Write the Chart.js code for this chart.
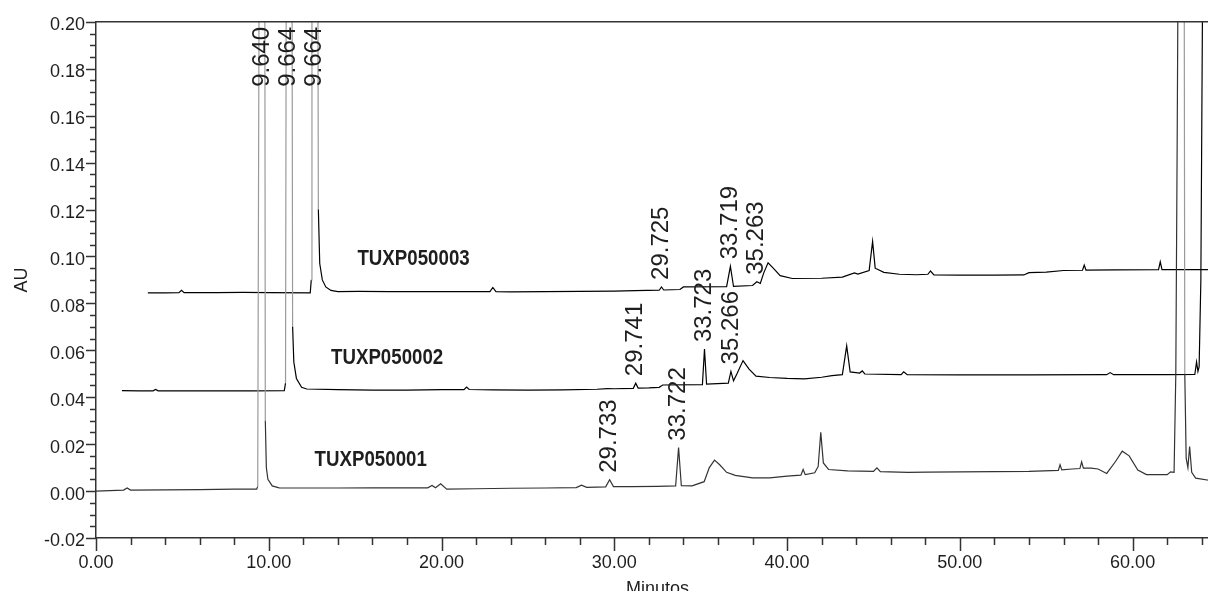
<!DOCTYPE html>
<html>
<head>
<meta charset="utf-8">
<title>TUXP chromatograms</title>
<script src="https://cdn.jsdelivr.net/npm/chart.js@4.4.1/dist/chart.umd.min.js"></script>
<style>
  html, body { margin: 0; padding: 0; background: #fff; overflow: hidden; }
  #wrap { width: 1232px; height: 604px; }
</style>
</head>
<body>
<div id="wrap"><canvas id="chrom"></canvas></div>
<script>
// --- data (as displayed: each run is offset in time and AU by the software) ---
const sampleNames = ['TUXP050001', 'TUXP050002', 'TUXP050003'];
const xTicks = [0, 10, 20, 30, 40, 50, 60];
const yTicks = [-0.02, 0.00, 0.02, 0.04, 0.06, 0.08, 0.10, 0.12, 0.14, 0.16, 0.18, 0.20];

const s1Time = [0.00, 0.8, 1.6, 1.8, 2.0, 4.0, 6.0, 8.0, 9.30, 9.36, 9.47, 9.62, 9.76, 9.80, 9.86, 9.95, 10.2, 10.6,
  12.0, 14.0, 16.0, 18.0, 19.2, 19.45, 19.65, 19.95, 20.3, 22.0, 24.0, 26.0, 27.8, 28.1, 28.4, 29.5, 29.73, 29.95,
  31.0, 32.5, 33.55, 33.72, 33.88, 34.5, 35.2, 35.5, 35.8, 36.1, 36.5, 37.0, 38.0, 39.0, 40.0, 40.8, 40.93, 41.05,
  41.6, 41.8, 41.95, 42.1, 42.4, 43.5, 45.0, 45.2, 45.4, 47.0, 48.1, 50.0, 52.0, 54.0, 55.7, 55.8, 55.9, 56.5,
  56.95, 57.05, 57.15, 57.6, 58.0, 58.5, 59.0, 59.4, 59.8, 60.3, 60.8, 62.0, 62.2, 62.4, 62.5, 62.58, 62.65, 62.85,
  62.97, 63.02, 63.1, 63.2, 63.3, 63.42, 63.65, 64.5, 65.0];
const s1AU = [0.0000, 0.0002, 0.0004, 0.0013, 0.0004, 0.0005, 0.0006, 0.0008, 0.0008, 0.0020, 0.30, 2.5, 0.30, 0.030, 0.010, 0.005, 0.0022, 0.0014,
  0.0013, 0.0013, 0.0014, 0.0014, 0.0014, 0.0024, 0.0014, 0.0031, 0.0008, 0.0010, 0.0012, 0.0013, 0.0015, 0.0025, 0.0016, 0.0018, 0.0048, 0.0019,
  0.0019, 0.0020, 0.0022, 0.0185, 0.0023, 0.0022, 0.0040, 0.0100, 0.0132, 0.0112, 0.0080, 0.0067, 0.0056, 0.0056, 0.0064, 0.0068, 0.0092, 0.0070,
  0.0078, 0.0105, 0.0250, 0.0120, 0.0092, 0.0086, 0.0084, 0.0099, 0.0083, 0.0080, 0.0081, 0.0082, 0.0083, 0.0084, 0.0088, 0.0112, 0.0090, 0.0094,
  0.0096, 0.0125, 0.0098, 0.0098, 0.0094, 0.0075, 0.0125, 0.0170, 0.0150, 0.0090, 0.0070, 0.0070, 0.0082, 0.0080, 0.050, 0.15, 0.25, 2.0,
  0.30, 0.050, 0.014, 0.010, 0.019, 0.0080, 0.0055, 0.0045, 0.0040];

const s2Time = [1.5, 2.5, 3.3, 3.45, 3.6, 5.0, 7.0, 9.0, 10.9, 10.97, 11.03, 11.18, 11.33, 11.38, 11.45, 11.6, 11.9, 12.2,
  14.0, 16.0, 18.0, 20.0, 21.3, 21.45, 21.6, 23.0, 25.0, 27.0, 29.0, 29.6, 30.0, 31.1, 31.24, 31.38, 32.0, 32.6, 32.8,
  35.1, 35.22, 35.34, 36.6, 36.75, 36.9, 37.1, 37.45, 37.8, 38.2, 39.0, 40.0, 41.0, 42.0, 42.6, 43.2, 43.45, 43.65,
  44.2, 44.35, 44.5, 46.6, 46.75, 46.95, 50.0, 54.0, 58.5, 58.7, 58.9, 62.0, 63.6, 63.7, 63.78, 63.85, 63.95, 64.08,
  64.4, 64.7, 65.0];
const s2AU = [0.0428, 0.0427, 0.0427, 0.0433, 0.0427, 0.0427, 0.0427, 0.0427, 0.0428, 0.0460, 0.30, 2.0, 0.30, 0.070, 0.055, 0.048, 0.0442, 0.0435,
  0.0432, 0.0430, 0.0430, 0.0432, 0.0432, 0.0443, 0.0433, 0.0431, 0.0430, 0.0431, 0.0434, 0.0437, 0.0436, 0.0438, 0.0460, 0.0439, 0.0440, 0.0442, 0.0452,
  0.0454, 0.0605, 0.0456, 0.0460, 0.0510, 0.0470, 0.0500, 0.0556, 0.0520, 0.0490, 0.0484, 0.0480, 0.0478, 0.0485, 0.0492, 0.0496, 0.0619, 0.0508,
  0.0503, 0.0512, 0.0499, 0.0496, 0.0508, 0.0496, 0.0495, 0.0495, 0.0496, 0.0505, 0.0496, 0.0496, 0.0497, 0.0550, 0.0510, 0.0530, 0.090, 0.25,
  2.0, 0.30, 0.080];

const s3Time = [3.0, 4.0, 4.8, 4.95, 5.1, 7.0, 8.5, 10.0, 12.4, 12.46, 12.50, 12.66, 12.82, 12.87, 12.95, 13.1, 13.3, 13.6, 14.0,
  15.2, 17.0, 20.0, 22.8, 22.97, 23.15, 24.0, 26.0, 28.0, 30.0, 31.2, 32.6, 32.73, 32.86, 33.8, 34.0, 36.5, 36.72, 36.9,
  38.0, 38.25, 38.45, 38.65, 38.9, 39.2, 39.6, 40.3, 42.0, 43.2, 43.9, 44.1, 44.75, 44.95, 45.1, 45.6, 46.5, 47.5,
  48.15, 48.3, 48.5, 50.0, 52.0, 53.7, 54.0, 55.0, 56.0, 57.1, 57.2, 57.3, 59.0, 61.5, 61.6, 61.7, 63.0, 64.0, 65.0];
const s3AU = [0.0845, 0.0845, 0.0846, 0.0856, 0.0846, 0.0846, 0.0847, 0.0846, 0.0845, 0.0900, 0.30, 2.0, 0.30, 0.120, 0.097, 0.090, 0.087, 0.0855, 0.0850,
  0.0851, 0.0850, 0.0850, 0.0850, 0.0868, 0.0850, 0.0849, 0.0850, 0.0851, 0.0852, 0.0854, 0.0856, 0.0870, 0.0857, 0.0859, 0.0870, 0.0871, 0.0958, 0.0872,
  0.0876, 0.0892, 0.0885, 0.0930, 0.0973, 0.0950, 0.0918, 0.0906, 0.0907, 0.0912, 0.0930, 0.0925, 0.0940, 0.1064, 0.0950, 0.0932, 0.0924, 0.0922,
  0.0924, 0.0938, 0.0921, 0.0920, 0.0920, 0.0921, 0.0931, 0.0933, 0.0940, 0.0941, 0.0963, 0.0942, 0.0943, 0.0944, 0.0977, 0.0944, 0.0944, 0.0944, 0.0944];

// integrated peak labels: run index, displayed time, retention time text
const peakSeries = [0, 0, 0, 1, 1, 1, 1, 2, 2, 2, 2];
const peakTime = [9.64, 29.73, 33.72, 11.16, 31.24, 35.22, 36.75, 12.66, 32.73, 36.72, 38.25];
const peakText = ['9.640', '29.733', '33.722', '9.664', '29.741', '33.723', '35.266', '9.664', '29.725', '33.719', '35.263'];

// --- drawing ---
const FONT = '"Liberation Sans", Arial, sans-serif';
Chart.defaults.font.family = FONT;
Chart.defaults.color = '#1e1e1e';

const runs = [[s1Time, s1AU], [s2Time, s2AU], [s3Time, s3AU]];
const lineColors = ['#333', '#000', '#000'];
const namePos = [{x: 15.9, y: 0.0131}, {x: 16.85, y: 0.0569}, {x: 18.38, y: 0.0989}];

const frame = {
  id: 'frame',
  afterDraw(chart) {
    const {ctx, chartArea: a, scales: {x, y}} = chart;
    ctx.save();
    ctx.strokeStyle = '#333';
    ctx.lineWidth = 1.5;
    ctx.beginPath();
    ctx.moveTo(a.left, a.top);
    ctx.lineTo(a.right, a.top);
    // y: majors every 0.02, minors every 0.005
    for (let k = 0; k <= 44; k++) {
      const py = Math.round(y.getPixelForValue(-0.02 + k * 0.005)) + 0.5;
      const len = k % 4 === 0 ? 10 : 6;
      ctx.moveTo(a.left - len, py);
      ctx.lineTo(a.left, py);
    }
    // x: majors every 10 min, minors every 2 min
    for (let k = 0; k <= 32; k++) {
      const px = Math.round(x.getPixelForValue(k * 2)) + 0.5;
      const len = k % 5 === 0 ? 13 : 7;
      ctx.moveTo(px, a.bottom);
      ctx.lineTo(px, a.bottom + len);
    }
    ctx.stroke();
    ctx.restore();
  }
};

const labels = {
  id: 'labels',
  afterDatasetsDraw(chart) {
    const {ctx, chartArea: a, scales: {x, y}} = chart;
    ctx.save();
    ctx.fillStyle = '#1e1e1e';
    ctx.font = '24px ' + FONT;
    ctx.textAlign = 'left';
    ctx.textBaseline = 'middle';
    peakText.forEach((txt, i) => {
      const [tt, au] = runs[peakSeries[i]];
      let top = -1;
      tt.forEach((t, j) => { if (Math.abs(t - peakTime[i]) <= 0.2) top = Math.max(top, au[j]); });
      const px = x.getPixelForValue(peakTime[i]);
      const w = ctx.measureText(txt).width;
      let start = y.getPixelForValue(Math.min(top, 0.2)) - 7;
      if (start - w < a.top + 5) start = a.top + 5 + w;
      ctx.save();
      ctx.translate(px, start);
      ctx.rotate(-Math.PI / 2);
      ctx.fillText(txt, 0, 0);
      ctx.restore();
    });
    // sample names, bold and a little condensed
    ctx.font = 'bold 22px ' + FONT;
    ctx.textAlign = 'center';
    sampleNames.forEach((name, i) => {
      ctx.save();
      ctx.translate(x.getPixelForValue(namePos[i].x), y.getPixelForValue(namePos[i].y));
      ctx.scale(0.85, 1);
      ctx.fillText(name, 0, 0);
      ctx.restore();
    });
    ctx.restore();
  }
};

new Chart(document.getElementById('chrom'), {
  type: 'line',
  data: {
    datasets: runs.map(([tt, au], i) => ({
      label: sampleNames[i],
      data: tt.map((t, j) => ({x: t, y: au[j]})),
      borderColor: lineColors[i],
      borderWidth: 1.2,
      pointRadius: 0,
      tension: 0,
      // the tall, off-scale peak flanks print lighter in the original
      segment: {
        borderColor: c => Math.max(c.p0.parsed.y, c.p1.parsed.y) > 0.25 ? '#9a9a9a' : undefined
      }
    }))
  },
  options: {
    responsive: true,
    maintainAspectRatio: false,
    animation: false,
    layout: {padding: {top: 20, right: 13, bottom: 0, left: 0}},
    plugins: {legend: {display: false}, tooltip: {enabled: false}},
    scales: {
      x: {
        type: 'linear',
        min: 0,
        max: 65,
        grid: {display: false, drawTicks: false, tickLength: 0},
        border: {display: true, color: '#333', width: 1.5},
        afterBuildTicks: s => { s.ticks = xTicks.map(v => ({value: v})); },
        afterFit: s => { s.height = 66; },
        ticks: {font: {size: 18}, padding: 14, maxRotation: 0, autoSkip: false,
          callback: v => v.toFixed(2)},
        title: {display: true, text: 'Minutos', font: {size: 18}, padding: {top: 2, bottom: 4}}
      },
      y: {
        min: -0.02,
        max: 0.2,
        grid: {display: false, drawTicks: false, tickLength: 0},
        border: {display: true, color: '#333', width: 1.5},
        afterBuildTicks: s => { s.ticks = yTicks.map(v => ({value: v})); },
        afterFit: s => { s.width = 96; },
        ticks: {font: {size: 18}, padding: 11, labelOffset: 3.5, autoSkip: false,
          callback: v => v.toFixed(2)},
        title: {display: true, text: 'AU', font: {size: 18}, padding: {top: 11, bottom: 0}}
      }
    }
  },
  plugins: [frame, labels]
});
</script>
</body>
</html>
